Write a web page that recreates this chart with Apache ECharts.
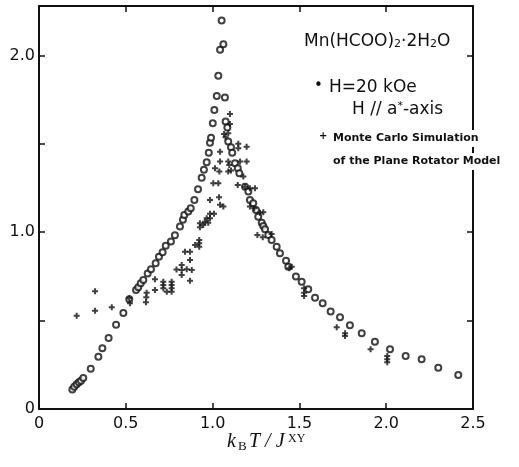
<!DOCTYPE html>
<html>
<head>
<meta charset="utf-8">
<script src="https://cdn.jsdelivr.net/npm/echarts@6/dist/echarts.min.js"></script>
<style>
  html, body { margin: 0; padding: 0; background: #fff; }
  #chart { width: 519px; height: 467px; }
</style>
</head>
<body>
<div id="chart"></div>
<script>
// Measured susceptibility, Mn(HCOO)2·2H2O, H = 20 kOe along a*  [kT/J, value]
const measuredPoints = [
  [0.192,0.111],[0.203,0.126],[0.217,0.140],[0.230,0.151],[0.242,0.160],[0.255,0.175],
  [0.298,0.228],[0.342,0.296],[0.365,0.343],[0.401,0.402],[0.444,0.477],[0.486,0.543],[0.520,0.621],
  [0.559,0.673],[0.572,0.689],[0.586,0.711],[0.601,0.730],[0.626,0.766],[0.645,0.791],[0.672,0.825],
  [0.691,0.862],[0.712,0.887],[0.730,0.924],[0.760,0.947],[0.783,0.983],
  [0.812,1.032],[0.829,1.070],[0.837,1.098],[0.860,1.117],[0.874,1.136],[0.895,1.183],[0.916,1.243],
  [0.937,1.309],[0.950,1.353],[0.966,1.396],[0.978,1.450],[0.985,1.507],[0.991,1.535],[1.001,1.617],
  [1.010,1.692],[1.024,1.771],[1.033,1.886],[1.043,2.032],[1.062,2.064],[1.052,2.198],
  [1.071,1.762],[1.075,1.626],[1.085,1.592],[1.090,1.513],[1.106,1.481],[1.113,1.450],[1.129,1.390],
  [1.145,1.362],[1.154,1.334],[1.187,1.258],[1.206,1.230],[1.215,1.183],[1.234,1.164],[1.250,1.126],
  [1.263,1.088],[1.283,1.054],[1.292,1.036],[1.302,1.017],[1.321,0.985],[1.340,0.956],[1.369,0.918],
  [1.388,0.881],[1.423,0.839],[1.436,0.805],[1.480,0.749],[1.513,0.720],[1.551,0.677],[1.590,0.630],
  [1.634,0.598],[1.680,0.551],[1.734,0.519],[1.791,0.474],[1.859,0.428],[1.935,0.381],[2.022,0.338],
  [2.112,0.300],[2.204,0.281],[2.300,0.234],[2.415,0.192]
];

// Monte Carlo simulation of the plane rotator model
const simulationPoints = [
  [0.217,0.528],[0.323,0.666],[0.323,0.556],[0.419,0.576],[0.520,0.626],[0.524,0.598],
  [0.620,0.658],[0.618,0.632],[0.616,0.604],[0.668,0.734],[0.668,0.673],
  [0.716,0.720],[0.716,0.702],[0.716,0.683],[0.736,0.664],
  [0.764,0.720],[0.764,0.702],[0.764,0.683],[0.764,0.664],
  [0.792,0.789],[0.822,0.815],[0.822,0.787],[0.822,0.758],[0.851,0.791],[0.880,0.787],
  [0.870,0.843],[0.870,0.726],[0.841,0.890],[0.870,0.890],[0.899,0.928],
  [0.923,0.956],[0.923,0.938],[0.923,0.918],
  [0.927,1.051],[0.946,1.041],[0.927,1.028],[0.956,1.060],[0.975,1.054],
  [0.985,1.079],[0.966,1.079],[0.985,1.104],[1.008,1.104],[0.985,1.183],[1.037,1.198],[1.043,1.155],
  [1.062,1.145],[1.004,1.277],[1.033,1.277],[1.014,1.362],[1.039,1.343],
  [1.043,1.456],[1.043,1.400],[1.090,1.400],[1.096,1.381],[1.158,1.400],[1.196,1.400],
  [1.090,1.343],[1.106,1.349],[1.177,1.315],[1.145,1.268],[1.187,1.258],[1.215,1.249],[1.244,1.249],
  [1.215,1.145],[1.240,1.136],[1.273,1.111],[1.292,1.113],
  [1.100,1.669],[1.100,1.613],[1.066,1.556],[1.075,1.538],[1.090,1.560],
  [1.148,1.500],[1.148,1.475],[1.196,1.484],
  [1.258,0.985],[1.289,0.972],[1.340,0.990],[1.442,0.796],[1.456,0.805],
  [1.527,0.683],[1.527,0.658],[1.527,0.640],
  [1.715,0.462],[1.763,0.428],[1.763,0.413],[1.910,0.338],
  [2.006,0.300],[2.006,0.281],[2.006,0.264]
];

// Axis ranges and tick labels
const xRange = [0, 2.5];
const yRange = [0, 2.28];
const xTickLabels = { 0: '0', 0.5: '0.5', 1: '1.0', 1.5: '1.5', 2: '2.0', 2.5: '2.5' };
const yTickLabels = { 0: '0', 1: '1.0', 2: '2.0' };

const FONT = '"DejaVu Sans", "Liberation Sans", sans-serif';
const SERIF = '"Liberation Serif", "DejaVu Serif", serif';
const INK = '#111';

const chart = echarts.init(document.getElementById('chart'), null, { renderer: 'canvas' });

const axisLine = { show: true, onZero: false, lineStyle: { color: INK, width: 2 } };
const axisTick = { show: true, inside: true, length: 6, lineStyle: { color: INK, width: 1.5 } };

const option = {
  backgroundColor: '#fff',
  animation: false,
  grid: { left: 39, right: 46, top: 6, bottom: 58 },
  xAxis: [
    {
      type: 'value', position: 'bottom', min: xRange[0], max: xRange[1], interval: 0.5,
      axisLine, axisTick, splitLine: { show: false },
      axisLabel: {
        margin: 7, fontSize: 16, fontFamily: FONT, color: INK,
        formatter: v => xTickLabels[v] ?? ''
      }
    },
    {
      type: 'value', position: 'top', min: xRange[0], max: xRange[1], interval: 0.5,
      axisLine, axisTick, splitLine: { show: false }, axisLabel: { show: false }
    }
  ],
  yAxis: [
    {
      type: 'value', position: 'left', min: yRange[0], max: yRange[1], interval: 0.5,
      axisLine, axisTick, splitLine: { show: false },
      axisLabel: {
        margin: 4, fontSize: 16, fontFamily: FONT, color: INK, showMaxLabel: false,
        formatter: v => yTickLabels[v] ?? ''
      }
    },
    {
      type: 'value', position: 'right', min: yRange[0], max: yRange[1], interval: 0.5,
      axisLine, axisTick, splitLine: { show: false }, axisLabel: { show: false }
    }
  ],
  series: [
    {
      name: 'H=20 kOe',
      type: 'scatter',
      xAxisIndex: 0, yAxisIndex: 0,
      symbol: 'emptyCircle',
      symbolSize: 6,
      itemStyle: { color: INK, borderColor: INK, borderWidth: 1.7 },
      data: measuredPoints,
      z: 3
    },
    {
      name: 'Monte Carlo Simulation',
      type: 'scatter',
      xAxisIndex: 0, yAxisIndex: 0,
      symbol: 'path://M2,0L4,0L4,2L6,2L6,4L4,4L4,6L2,6L2,4L0,4L0,2L2,2Z',
      symbolSize: 6,
      itemStyle: { color: INK },
      data: simulationPoints,
      z: 4
    }
  ],
  graphic: [
    // compound name
    {
      type: 'text', left: 304, top: 33, z: 10,
      style: {
        text: '{m|Mn(HCOO)}{s|2}{m|·2H}{s|2}{m|O}',
        rich: {
          m: { fontSize: 17, fontFamily: FONT, fill: INK, verticalAlign: 'bottom', lineHeight: 22 },
          s: { fontSize: 11, fontFamily: FONT, fill: INK, verticalAlign: 'bottom', lineHeight: 16 }
        }
      }
    },
    // measured-data key
    { type: 'text', left: 314, top: 79, z: 10,
      style: { text: '•', fontSize: 15, fontFamily: FONT, fill: INK } },
    { type: 'text', left: 329, top: 79, z: 10,
      style: { text: 'H=20 kOe', fontSize: 17, fontFamily: FONT, fill: INK } },
    {
      type: 'text', left: 352, top: 101, z: 10,
      style: {
        text: '{m|H // a}{u|*}{m|-axis}',
        rich: {
          m: { fontSize: 17, fontFamily: FONT, fill: INK, verticalAlign: 'top', lineHeight: 20 },
          u: { fontSize: 11, fontFamily: FONT, fill: INK, verticalAlign: 'top', lineHeight: 12 }
        }
      }
    },
    // simulation key
    { type: 'text', left: 319, top: 131, z: 10,
      style: { text: '+', fontSize: 10, fontWeight: 'bold', fontFamily: FONT, fill: INK } },
    { type: 'text', left: 333, top: 130, z: 10,
      style: { text: 'Monte Carlo Simulation', fontSize: 11, fontWeight: 'bold', fontFamily: FONT,
               fill: INK, backgroundColor: '#fff', padding: [3, 3, 3, 0] } },
    { type: 'text', left: 333, top: 153, z: 10,
      style: { text: 'of the Plane Rotator Model', fontSize: 11, fontWeight: 'bold', fontFamily: FONT,
               fill: INK, backgroundColor: '#fff', padding: [3, 3, 3, 0] } },
    // x axis title: k_B T / J^XY
    { type: 'text', left: 227, top: 432, z: 10,
      style: { text: 'k', fontSize: 20, fontStyle: 'italic', fontFamily: SERIF, fill: INK } },
    { type: 'text', left: 238, top: 440, z: 10,
      style: { text: 'B', fontSize: 13, fontFamily: SERIF, fill: INK } },
    { type: 'text', left: 249, top: 432, z: 10,
      style: { text: 'T / J', fontSize: 20, fontStyle: 'italic', fontFamily: SERIF, fill: INK } },
    { type: 'text', left: 288, top: 433, z: 10,
      style: { text: 'XY', fontSize: 12, fontFamily: SERIF, fill: INK } }
  ]
};

chart.setOption(option);
</script>
</body>
</html>
